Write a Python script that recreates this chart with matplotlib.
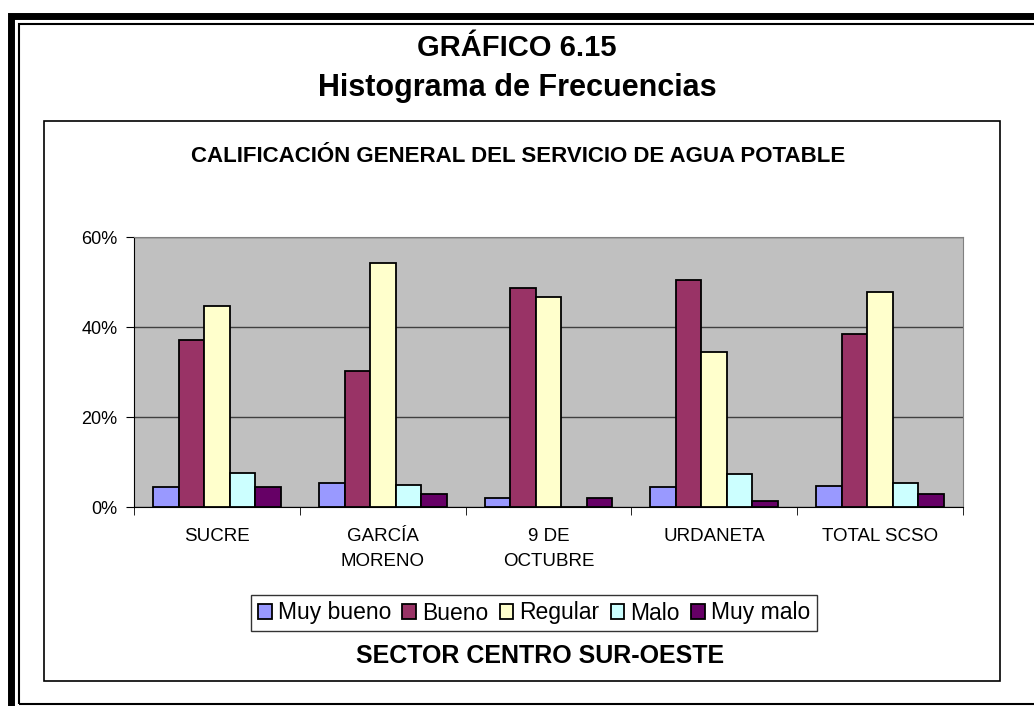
import numpy as np
import matplotlib.pyplot as plt
from matplotlib.patches import Rectangle
from matplotlib.ticker import PercentFormatter

# datos (porcentajes)
sectores = ['SUCRE', 'GARCÍA\nMORENO', '9 DE\nOCTUBRE', 'URDANETA', 'TOTAL SCSO']
categorias = ['Muy bueno', 'Bueno', 'Regular', 'Malo', 'Muy malo']
muy_bueno = [4.4, 5.5, 2.1, 4.4, 4.8]
bueno = [37.1, 30.4, 48.7, 50.6, 38.5]
regular = [44.7, 54.3, 46.8, 34.5, 47.8]
malo = [7.6, 5.0, 0.0, 7.3, 5.5]
muy_malo = [4.4, 3.0, 2.1, 1.4, 3.0]
colores = ['#9999FF', '#993366', '#FFFFCC', '#CCFFFF', '#660066']

series = [muy_bueno, bueno, regular, malo, muy_malo]

W, H = 1034, 706
fig = plt.figure(figsize=(W / 100, H / 100), dpi=100)
plt.rcParams['font.family'] = ['Liberation Sans', 'DejaVu Sans']

def fx(px):
    return px / W

def fy(py):
    return 1 - py / H

# marcos exteriores
fig.add_artist(Rectangle((fx(10.5), fy(740)), fx(1100), fy(16) - fy(740), transform=fig.transFigure,
                         fill=False, lw=5.0, ec='black'))
fig.add_artist(Rectangle((fx(19), fy(704)), fx(1100), fy(24) - fy(704), transform=fig.transFigure,
                         fill=False, lw=1.5, ec='black'))
# caja del grafico
fig.add_artist(Rectangle((fx(44), fy(680.5)), fx(999.5) - fx(44), fy(121) - fy(680.5), transform=fig.transFigure,
                         fill=False, lw=1.2, ec='black'))

fig.text(0.5, fy(48), 'GRÁFICO 6.15', ha='center', va='center', fontsize=21, fontweight='bold')
fig.text(0.5, fy(88), 'Histograma de Frecuencias', ha='center', va='center', fontsize=22, fontweight='bold')
fig.text(fx(518), fy(157), 'CALIFICACIÓN GENERAL DEL SERVICIO DE AGUA POTABLE', ha='center', va='center',
         fontsize=16, fontweight='bold')
fig.text(fx(540), fy(656), 'SECTOR CENTRO SUR-OESTE', ha='center', va='center', fontsize=18, fontweight='bold')

ax = fig.add_axes([fx(134.3), fy(507.3), fx(962.7) - fx(134.3), fy(237.3) - fy(507.3)])
ax.set_facecolor('#C0C0C0')

x = np.arange(len(sectores))
ancho = 1 / 6.5
for i, (vals, nombre, c) in enumerate(zip(series, categorias, colores)):
    ax.bar(x + (i - 2) * ancho, vals, ancho, color=c, edgecolor='black', linewidth=1.3,
           label=nombre, zorder=3)

ax.set_xlim(-0.5, len(sectores) - 0.5)
ax.set_ylim(0, 60)
ax.set_yticks([0, 20, 40, 60])
ax.yaxis.set_major_formatter(PercentFormatter(decimals=0))
ax.grid(axis='y', color='#404040', lw=1.0, zorder=1)
ax.set_xticks(x)
ax.set_xticklabels(sectores, fontsize=13.5, linespacing=1.62)
ax.set_xticks(np.arange(len(sectores) + 1) - 0.5, minor=True)
ax.tick_params(axis='x', which='major', length=0, pad=15)
ax.tick_params(axis='x', which='minor', length=6, color='black')
ax.tick_params(axis='y', labelsize=13, length=6, pad=6, color='black')
for s in ['top', 'right']:
    ax.spines[s].set_color('#808080')
for s in ['left', 'bottom']:
    ax.spines[s].set_color('black')

leg = fig.legend(loc='center', bbox_to_anchor=(fx(534), fy(613)), ncol=5, fontsize=16.5, frameon=True,
                 fancybox=False, edgecolor='black', handlelength=0.6, handleheight=0.6,
                 handletextpad=0.25, columnspacing=0.5, borderpad=0.3)
leg.get_frame().set_linewidth(1.0)

fig.savefig('out.png', dpi=100)
